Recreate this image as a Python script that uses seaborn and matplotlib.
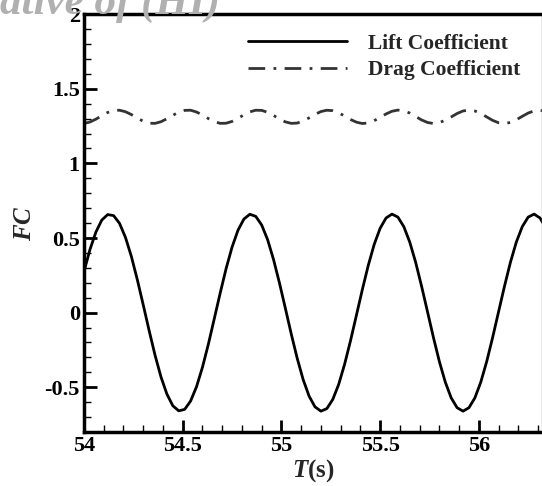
import numpy as np
import pandas as pd
import matplotlib
matplotlib.use("Agg")
import matplotlib.pyplot as plt
import seaborn as sns
from matplotlib.ticker import MultipleLocator

# Time samples (s)
time_s = [round(54.0 + 0.03 * k, 2) for k in range(79)]

lift = [0.275, 0.422, 0.539, 0.620, 0.657, 0.650, 0.598, 0.504, 0.376, 0.221,
        0.052, -0.121, -0.286, -0.431, -0.546, -0.624, -0.658, -0.648, -0.592, -0.496,
        -0.366, -0.211, -0.040, 0.132, 0.296, 0.439, 0.552, 0.627, 0.659, 0.645,
        0.587, 0.489, 0.356, 0.199, 0.029, -0.144, -0.306, -0.448, -0.559, -0.631,
        -0.660, -0.643, -0.582, -0.481, -0.346, -0.188, -0.017, 0.155, 0.317, 0.457,
        0.565, 0.634, 0.660, 0.640, 0.576, 0.473, 0.337, 0.177, 0.006, -0.166,
        -0.327, -0.465, -0.571, -0.637, -0.660, -0.637, -0.571, -0.465, -0.327, -0.166,
        0.006, 0.177, 0.337, 0.473, 0.576, 0.640, 0.660, 0.634, 0.565]

drag = [1.267, 1.277, 1.296, 1.319, 1.341, 1.354, 1.356, 1.346, 1.327, 1.303,
        1.282, 1.269, 1.268, 1.279, 1.299, 1.322, 1.343, 1.355, 1.356, 1.344,
        1.324, 1.300, 1.280, 1.268, 1.269, 1.281, 1.302, 1.325, 1.345, 1.356,
        1.355, 1.342, 1.321, 1.297, 1.278, 1.268, 1.270, 1.284, 1.305, 1.328,
        1.347, 1.356, 1.353, 1.339, 1.317, 1.294, 1.276, 1.267, 1.271, 1.286,
        1.308, 1.331, 1.349, 1.357, 1.352, 1.337, 1.314, 1.291, 1.274, 1.267,
        1.273, 1.289, 1.311, 1.334, 1.351, 1.357, 1.351, 1.334, 1.311, 1.288,
        1.272, 1.267, 1.274, 1.292, 1.315, 1.337, 1.352, 1.356, 1.349]

series_names = ["Lift Coefficient", "Drag Coefficient"]
x_ticks = [54, 54.5, 55, 55.5, 56]
x_tick_labels = ["54", "54.5", "55", "55.5", "56"]
y_ticks = [-0.5, 0, 0.5, 1, 1.5, 2]
y_tick_labels = ["-0.5", "0", "0.5", "1", "1.5", "2"]

df = pd.DataFrame({
    "T": time_s * 2,
    "FC": lift + drag,
    "series": [series_names[0]] * len(lift) + [series_names[1]] * len(drag),
})

sns.set_style("white")
plt.rcParams["font.family"] = ["Liberation Serif", "DejaVu Serif"]
plt.rcParams["font.weight"] = "bold"
plt.rcParams["mathtext.fontset"] = "custom"
plt.rcParams["mathtext.it"] = "Liberation Serif:italic:bold"
plt.rcParams["mathtext.rm"] = "Liberation Serif:bold"

fig = plt.figure(figsize=(5.42, 4.86), dpi=100)
ax = fig.add_axes([0.155, 0.111, 0.845, 0.86])

sns.lineplot(data=df, x="T", y="FC", hue="series", style="series",
             palette={series_names[0]: "black", series_names[1]: "#333333"},
             dashes={series_names[0]: "", series_names[1]: (6, 3, 1, 3)},
             linewidth=2.0, ax=ax, legend=True, sort=False)

ax.set_xlim(54, 56.32)
ax.set_ylim(-0.8, 2)
ax.set_xticks(x_ticks)
ax.set_xticklabels(x_tick_labels)
ax.set_yticks(y_ticks)
ax.set_yticklabels(y_tick_labels)
ax.xaxis.set_minor_locator(MultipleLocator(0.1))
ax.yaxis.set_minor_locator(MultipleLocator(0.1))
ax.tick_params(which="both", direction="in", left=True, bottom=True,
               top=False, right=False, colors="black", labelsize=16)
ax.tick_params(which="major", length=9, width=2)
ax.tick_params(which="minor", length=5, width=1)
for lab in ax.get_xticklabels() + ax.get_yticklabels():
    lab.set_fontweight("bold")
ax.tick_params(axis="x", pad=3)
ax.tick_params(axis="y", pad=3)

for side in ["left", "bottom", "top"]:
    ax.spines[side].set_visible(True)
    ax.spines[side].set_color("black")
    ax.spines[side].set_linewidth(2.5)
ax.spines["right"].set_color("#999999")
ax.spines["right"].set_linewidth(1.0)

ax.set_xlabel(r"$\mathit{T}\mathrm{(s)}$", fontsize=18, labelpad=1)
ax.set_ylabel(r"$\mathit{FC}$", fontsize=18, labelpad=6)

leg = ax.legend(loc="upper right", frameon=False, fontsize=15.5,
                handlelength=4.6, handletextpad=1.0, borderaxespad=0.5,
                labelspacing=0.3, bbox_to_anchor=(0.995, 1.0))
for t in leg.get_texts():
    t.set_fontweight("bold")
for h in leg.get_lines():
    h.set_linewidth(2.0)

fig.text(0.0, 0.972, "ative of (HI)", fontsize=31, style="italic",
         color="#b0b0b0", ha="left", va="baseline", family="Liberation Serif",
         zorder=0)

fig.savefig("out.png", dpi=100, facecolor="white")
